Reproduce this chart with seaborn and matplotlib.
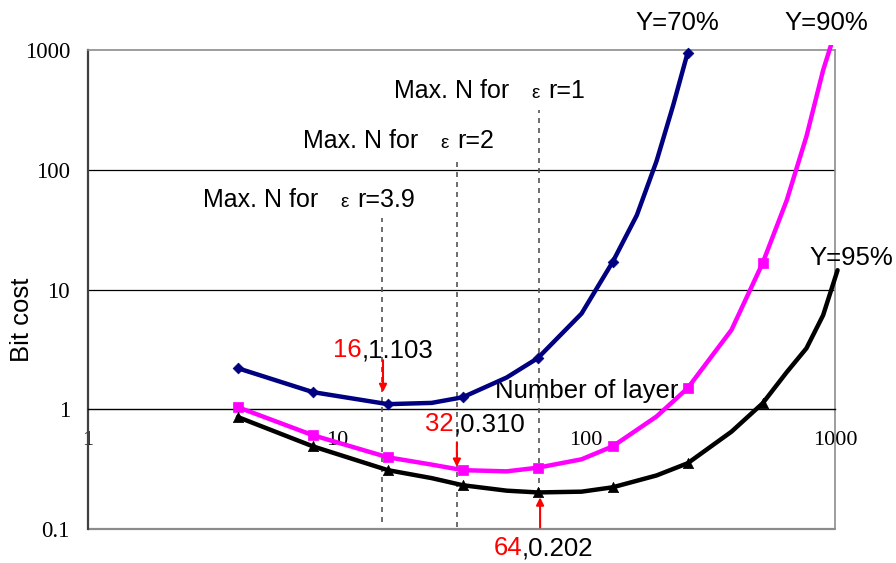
import numpy as np
import pandas as pd
import matplotlib
matplotlib.use("Agg")
import matplotlib.pyplot as plt
import matplotlib.patches as mpatches
from matplotlib.ticker import NullLocator
import seaborn as sns

# Bit cost versus number of layers for three yield targets
layers_70 = [4, 8, 16, 24, 32, 48, 64, 96, 128, 160, 192, 224, 256]
cost_70 = [2.2, 1.39, 1.103, 1.13, 1.26, 1.84, 2.67, 6.3, 17.0, 41.7, 118, 346, 950]

layers_90 = [4, 8, 16, 24, 32, 48, 64, 96, 128, 192, 256, 384, 512, 640, 768, 896, 1024]
cost_90 = [1.04, 0.607, 0.397, 0.345, 0.310, 0.303, 0.325, 0.382, 0.49, 0.87,
           1.5, 4.6, 16.6, 55.6, 190, 678, 1640]

layers_95 = [4, 8, 16, 24, 32, 48, 64, 96, 128, 192, 256, 384, 512, 640, 768, 896, 1024]
cost_95 = [0.86, 0.49, 0.31, 0.266, 0.232, 0.209, 0.202, 0.205, 0.223, 0.28,
           0.354, 0.65, 1.12, 2.04, 3.23, 6.1, 14.5]

series_names = ["Y=70%", "Y=90%", "Y=95%"]
series_colors = ["#000080", "#FF00FF", "#000000"]
series_markers = ["D", "s", "^"]
marker_sizes = [30, 45, 55]

# Maximum layer count allowed for each permittivity ratio
max_n = [15.2, 30.3, 64.7]
eps_ratio_labels = ["3.9", "2", "1"]

# Cost minimum of each curve
optimum_n = [16, 32, 64]
optimum_cost = [1.103, 0.310, 0.202]

x_ticks = [1, 10, 100, 1000]
y_ticks = [0.1, 1, 10, 100, 1000]

frames = []
for name, n, c in zip(series_names,
                      [layers_70, layers_90, layers_95],
                      [cost_70, cost_90, cost_95]):
    frames.append(pd.DataFrame({"layers": n, "cost": c, "series": name}))
df = pd.concat(frames, ignore_index=True)
df["marked"] = (np.log2(df["layers"]) % 1 == 0) & (df["layers"] <= 512)

sns.set_style("white")
plt.rcParams["font.family"] = ["Liberation Sans", "DejaVu Sans"]
plt.rcParams["text.color"] = "black"

fig = plt.figure(figsize=(8.96, 5.63), dpi=100)
ax = fig.add_axes([88 / 896, 34 / 563, 747 / 896, 479 / 563])

palette = dict(zip(series_names, series_colors))
n_lines_before = len(ax.lines)
sns.lineplot(data=df, x="layers", y="cost", hue="series", palette=palette,
             linewidth=3.2, estimator=None, sort=False, legend=False, ax=ax,
             zorder=4)
for name, color, mk, sz in zip(series_names, series_colors, series_markers, marker_sizes):
    sub = df[(df["series"] == name) & df["marked"]]
    sns.scatterplot(data=sub, x="layers", y="cost", color=color, marker=mk,
                    s=sz, edgecolor=color, linewidth=0.5, legend=False, ax=ax,
                    zorder=5)

ax.set_xscale("log")
ax.set_yscale("log")
ax.set_xlim(1, 1000)
ax.set_ylim(0.1, 1000)

# Curves may run a few pixels past the frame before being cut off
clip_rect = mpatches.Rectangle((0, 0), 1.0067, 1.0104, transform=ax.transAxes)
for ln in ax.lines[n_lines_before:]:
    ln.set_clip_path(clip_rect)
for coll in ax.collections:
    coll.set_clip_path(clip_rect)

# Frame and axis lines
ax.spines["bottom"].set_position(("data", 1))
ax.spines["bottom"].set_color("black")
ax.spines["bottom"].set_linewidth(1.0)
ax.spines["left"].set_color("#404040")
ax.spines["left"].set_linewidth(1.6)
for side in ["top", "right"]:
    ax.spines[side].set_color("#8c8c8c")
    ax.spines[side].set_linewidth(1.2)
ax.axhline(0.1, color="#8c8c8c", lw=1.6, clip_on=False, zorder=1)
for g in [10, 100]:
    ax.axhline(g, color="black", lw=0.9, zorder=1)

ax.set_xticks(x_ticks)
ax.set_xticklabels([f"{t:g}" for t in x_ticks], fontfamily="Liberation Serif", fontsize=16)
ax.set_yticks(y_ticks)
ax.set_yticklabels([f"{t:g}" for t in y_ticks], fontfamily="Liberation Serif", fontsize=16.5)
ax.xaxis.set_minor_locator(NullLocator())
ax.yaxis.set_minor_locator(NullLocator())
ax.tick_params(axis="x", direction="in", length=6, width=1, pad=16, colors="black")
ax.tick_params(axis="y", direction="in", length=5, width=1, pad=13, colors="black")
ax.set_xlabel("")
ax.set_ylabel("")

# Limits of the layer count for each permittivity ratio
line_tops = [39.4, 120, 315]
line_bottoms = [0.114, 0.103, 0.199]
ax.vlines(max_n, line_bottoms, line_tops, colors="#555555", linestyles=(0, (3, 3)),
          lw=1.2, zorder=3)
label_left = [2.896, 7.30, 16.93]
label_base = [48.6, 151, 395]
for lx, ly, ratio in zip(label_left, label_base, eps_ratio_labels):
    ax.annotate("Max. N for", (lx, ly), xytext=(0, 0), textcoords="offset pixels",
                ha="left", va="baseline", fontsize=18)
    ax.annotate("\u03b5", (lx, ly), xytext=(137, 0), textcoords="offset pixels",
                ha="left", va="baseline", fontsize=13.5)
    ax.annotate(f"r={ratio}", (lx, ly), xytext=(154, 0), textcoords="offset pixels",
                ha="left", va="baseline", fontsize=18)

# Series names at the curve ends
name_pos = [(232, 1672), (920, 1672), (1159, 18.2)]
for (nx, ny), name in zip(name_pos, series_names):
    ax.text(nx, ny, name, ha="center", va="center", fontsize=18.5, clip_on=False)

# Optimum points with arrows
split_x = [12.6, 29.5, 55.3]
split_y = [3.11, 0.75, 0.069]
arrow_x = [15.3, 30.3, 65.4]
arrow_tail = [2.57, 0.53, 0.103]
arrow_tip = [1.39, 0.33, 0.184]
for n, c, sx, sy, axx, at, ap in zip(optimum_n, optimum_cost, split_x, split_y,
                                      arrow_x, arrow_tail, arrow_tip):
    ax.text(sx, sy, f"{n}", color="red", ha="right", va="center", fontsize=18.5,
            clip_on=False)
    ax.text(sx, sy, f",{c:.3f}", color="black", ha="left", va="center", fontsize=18.5,
            clip_on=False)
    ax.annotate("", xy=(axx, ap), xytext=(axx, at),
                arrowprops=dict(arrowstyle="-|>", color="red", lw=1.5,
                                mutation_scale=11, shrinkA=0, shrinkB=0),
                annotation_clip=False)

ax.text(101, 1.41, "Number of layer", ha="center", va="center", fontsize=18.5)
fig.text(22 / 896, 1 - 320 / 563, "Bit cost", rotation=90, ha="center", va="center",
         fontsize=18.5)

fig.savefig("out.png", dpi=100)
